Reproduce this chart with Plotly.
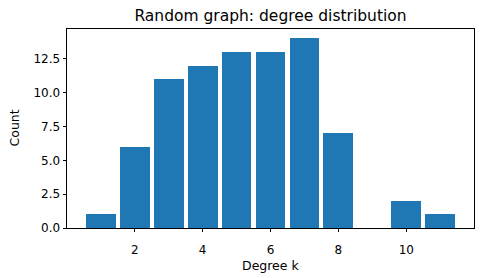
import plotly.graph_objects as go

degrees = [1, 2, 3, 4, 5, 6, 7, 8, 9, 10, 11]
counts = [1, 6, 11, 12, 13, 13, 14, 7, 0, 2, 1]
x_ticks = [2, 4, 6, 8, 10]
y_ticks = [0, 2.5, 5, 7.5, 10, 12.5]

font = "DejaVu Sans"
W, H = 483, 278
ML, MR, MT, MB = 67, 9, 29, 50
PW, PH = W - ML - MR, H - MT - MB

fig = go.Figure(go.Bar(
    x=degrees, y=counts, width=0.88,
    marker=dict(color="#1f77b4", line=dict(width=0)),
))

fig.update_layout(
    width=W, height=H,
    margin=dict(l=ML, r=MR, t=MT, b=MB),
    paper_bgcolor="white", plot_bgcolor="white",
    font=dict(family=font, size=12, color="black"),
    showlegend=False,
    title=dict(text="Random graph: degree distribution",
               font=dict(family=font, size=15.5, color="black"),
               x=270.5 / W, xanchor="center", xref="container",
               y=1 - 15.5 / H, yanchor="middle", yref="container"),
    bargap=0,
    annotations=[
        dict(text="Degree k", xref="paper", yref="paper", x=0.5,
             y=(H - MB - 265) / PH, xanchor="center", yanchor="middle",
             showarrow=False, font=dict(family=font, size=12.5, color="black")),
        dict(text="Count", xref="paper", yref="paper", x=(14 - ML) / PW,
             y=0.5, xanchor="center", yanchor="middle", textangle=-90,
             showarrow=False, font=dict(family=font, size=12.5, color="black")),
    ],
)
fig.update_xaxes(
    range=[0.005, 11.995], tickvals=x_ticks, ticks="outside", ticklen=3.5,
    tickwidth=0.8, tickcolor="black", showline=True, linecolor="black", linewidth=0.8,
    mirror=True, showgrid=False, zeroline=False, ticklabelstandoff=7,
    tickfont=dict(size=12),
)
fig.update_yaxes(
    range=[0, 14.7], tickvals=y_ticks, tickformat=".1f", ticks="outside", ticklen=3.5,
    tickwidth=0.8, tickcolor="black", showline=True, linecolor="black", linewidth=0.8,
    mirror=True, showgrid=False, zeroline=False,
    tickfont=dict(size=12),
)

fig.write_html("out.html")
